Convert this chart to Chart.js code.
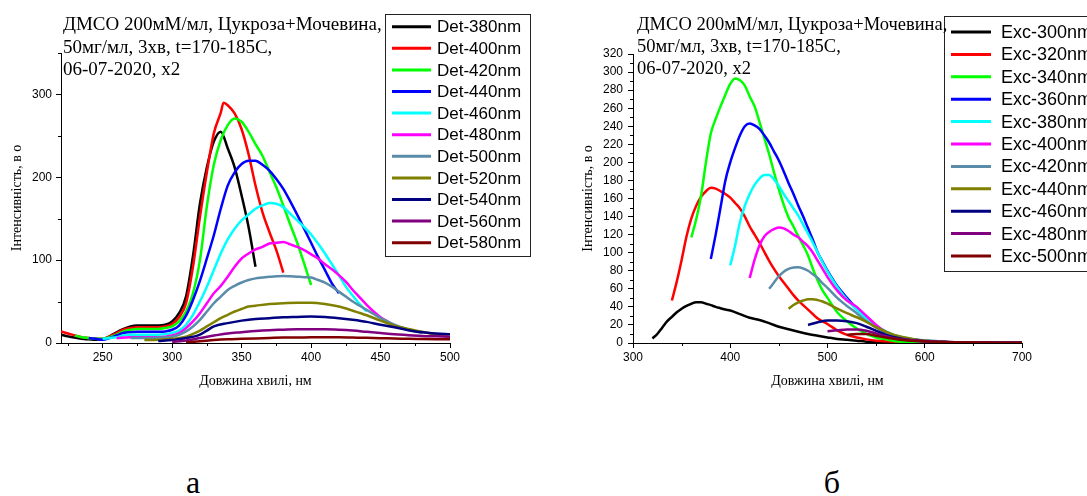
<!DOCTYPE html>
<html lang="uk">
<head>
<meta charset="utf-8">
<script src="https://cdn.jsdelivr.net/npm/chart.js@4.4.1/dist/chart.umd.min.js"></script>
<style>
  body { margin: 0; background: #fff; width: 1087px; height: 496px; position: relative; overflow: hidden }
  canvas, .texto { position: absolute }
  .texto { font-family: 'Liberation Serif', 'Times New Roman', serif; color: #000; white-space: nowrap }
</style>
</head>
<body>
<canvas id="graficoA" width="540" height="400" style="left:0;top:0"></canvas>
<canvas id="graficoB" width="547" height="400" style="left:540px;top:0"></canvas>

<div class="texto" style="left:63px;top:13px;font-size:19px;line-height:22.5px">ДМСО 200мМ/мл, Цукроза+Мочевина,<br>50мг/мл, 3хв, t=170-185С,<br>06-07-2020, x2</div>
<div class="texto" style="left:637px;top:13px;font-size:18.5px;line-height:22px">ДМСО 200мМ/мл, Цукроза+Мочевина,<br>50мг/мл, 3хв, t=170-185С,<br>06-07-2020, x2</div>
<div class="texto" style="left:173px;top:466px;width:40px;text-align:center;font-size:32px;line-height:32px">а</div>
<div class="texto" style="left:812px;top:466px;width:40px;text-align:center;font-size:32px;line-height:32px">б</div>

<script>
// ---- grafico a: detecção
const detLabels = ['Det-380nm', 'Det-400nm', 'Det-420nm', 'Det-440nm', 'Det-460nm', 'Det-480nm', 'Det-500nm', 'Det-520nm', 'Det-540nm', 'Det-560nm', 'Det-580nm']

const det380X = [220, 225, 230, 235, 240, 245, 250, 255, 260, 265, 270, 275, 280, 285, 290, 295, 300, 305, 310, 315, 320, 325, 330, 335, 340, 345, 350, 355, 360]
const det380Y = [10, 8, 6.5, 5, 4.5, 4, 4.5, 8, 13, 17, 20, 21, 21, 21, 21, 22, 26, 36, 56, 105, 168, 212, 243, 255, 235, 212, 178, 140, 92]

const det400X = [220, 225, 230, 235, 240, 245, 250, 255, 260, 265, 270, 275, 280, 285, 290, 295, 300, 305, 310, 315, 320, 325, 330, 335, 337, 340, 345, 350, 355, 360, 365, 370, 375, 380]
const det400Y = [14, 11.5, 9, 7, 6, 5, 5, 8, 12, 16, 18, 19, 19, 19, 19, 20, 23, 31, 48, 92, 152, 206, 253, 278, 290, 287, 277, 258, 228, 190, 158, 134, 112, 85]

const det420X = [230, 235, 240, 245, 250, 255, 260, 265, 270, 275, 280, 285, 290, 295, 300, 305, 310, 315, 320, 325, 330, 335, 340, 345, 350, 355, 360, 365, 370, 375, 380, 385, 390, 395, 400]
const det420Y = [9, 7, 6, 5, 5, 7, 10, 14, 16, 17, 17, 17, 17, 18, 20, 26, 38, 60, 100, 165, 215, 245, 263, 271, 267, 255, 240, 226, 207, 188, 166, 143, 121, 96, 70]

const det440X = [240, 245, 250, 255, 260, 265, 270, 275, 280, 290, 295, 300, 305, 310, 315, 320, 325, 330, 335, 340, 345, 350, 355, 360, 365, 370, 375, 380, 385, 390, 395, 400, 405, 410, 415, 420]
const det440Y = [6, 5, 4, 6, 9, 12, 13, 13.5, 13.5, 13.5, 14, 16, 21, 33, 52, 75, 102, 130, 162, 190, 206, 216, 220, 220, 215, 208, 198, 186, 171, 155, 138, 121, 104, 88, 72, 60]

const det460X = [250, 255, 260, 265, 270, 280, 290, 295, 300, 305, 310, 315, 320, 325, 330, 335, 340, 345, 350, 355, 360, 365, 370, 375, 380, 385, 390, 395, 400, 405, 410, 415, 420, 425, 430, 435, 440]
const det460Y = [5, 6, 7, 9, 10, 10, 10, 10.5, 12, 15, 22, 34, 50, 68, 88, 108, 125, 138, 148, 155, 162, 166, 169, 168, 164, 156, 148, 140, 131, 120, 108, 95, 82, 68, 57, 47, 38]

const det480X = [260, 270, 280, 290, 300, 305, 310, 315, 320, 325, 330, 335, 340, 345, 350, 355, 360, 365, 370, 375, 380, 385, 390, 395, 400, 405, 410, 415, 420, 425, 430, 435, 440, 445, 450, 455, 460]
const det480Y = [6, 7, 7, 7, 9, 12, 18, 26, 36, 48, 60, 69, 80, 92, 102, 108, 113, 116, 120, 121, 122, 119, 116, 112, 107, 102, 95, 89, 82, 74, 64, 55, 46, 38, 31, 26, 21]

const det500X = [270, 280, 290, 300, 305, 310, 315, 320, 325, 330, 335, 340, 345, 350, 355, 360, 365, 370, 375, 380, 385, 390, 395, 400, 405, 410, 415, 420, 425, 430, 435, 440, 445, 450, 455, 460, 465, 470, 475, 480]
const det500Y = [6, 6, 6.5, 7.5, 10, 14, 20, 28, 38, 48, 56, 64, 69, 73, 76, 78, 79, 80, 80.5, 81, 80.5, 80, 79.5, 79, 76, 73, 68, 62, 56, 50, 45, 40, 35, 30, 26, 22, 19, 16, 14, 12]

const det520X = [280, 290, 300, 310, 315, 320, 325, 330, 335, 340, 345, 350, 355, 360, 370, 380, 390, 400, 410, 420, 430, 440, 450, 460, 470, 480, 490, 500]
const det520Y = [3.5, 4, 5, 7.5, 11, 15, 20, 25, 30, 34, 38, 41, 44, 45, 47, 48, 48.5, 48.5, 47, 44, 39, 33.5, 27, 21, 17, 13.5, 10, 7.5]

const det540X = [290, 300, 310, 315, 320, 325, 330, 340, 350, 360, 370, 380, 390, 400, 410, 420, 430, 440, 450, 460, 470, 480, 490, 500]
const det540Y = [2.5, 3.5, 6, 7.5, 10, 15, 20, 24, 27, 29, 30, 31, 31.5, 32, 31.5, 30, 28, 25.5, 22, 19, 15.5, 13, 11.5, 10.5]

const det560X = [300, 310, 320, 330, 340, 350, 360, 370, 380, 390, 400, 410, 420, 430, 440, 450, 460, 470, 480, 490, 500]
const det560Y = [1.5, 3, 6, 9, 11.5, 13, 14.5, 15.5, 16, 16.5, 16.5, 16.5, 16, 15, 13.5, 12, 10.5, 9.5, 8.5, 8, 7.5]

const det580X = [310, 320, 330, 340, 350, 360, 370, 380, 390, 400, 410, 420, 430, 440, 450, 460, 470, 480, 490, 500]
const det580Y = [0.8, 2, 3.5, 4.5, 5, 5.5, 6, 6.5, 6.5, 7, 7, 6.8, 6.5, 6.2, 5.8, 5.5, 5, 4.8, 4.6, 4.4]

const detXs = [det380X, det400X, det420X, det440X, det460X, det480X, det500X, det520X, det540X, det560X, det580X]
const detYs = [det380Y, det400Y, det420Y, det440Y, det460Y, det480Y, det500Y, det520Y, det540Y, det560Y, det580Y]

// ---- grafico б: excitação
const excLabels = ['Exc-300nm', 'Exc-320nm', 'Exc-340nm', 'Exc-360nm', 'Exc-380nm', 'Exc-400nm', 'Exc-420nm', 'Exc-440nm', 'Exc-460nm', 'Exc-480nm', 'Exc-500nm']

const exc300X = [320, 325, 330, 335, 340, 345, 350, 355, 360, 365, 370, 375, 380, 385, 390, 395, 400, 410, 420, 430, 440, 450, 460, 470, 480, 490, 500, 510, 520, 530, 540, 550, 560, 570, 580]
const exc300Y = [5, 10, 17, 24, 29, 34, 38, 41, 43.5, 45, 45, 43.5, 42, 40, 38.5, 37, 36, 32, 28, 25.5, 22, 18, 15.2, 12.5, 10, 8, 6.2, 4.5, 3.5, 2.5, 1.5, 1, 0.6, 0.4, 0.3]

const exc320X = [340, 345, 350, 355, 360, 365, 370, 375, 380, 385, 390, 395, 400, 405, 410, 415, 420, 425, 430, 435, 440, 445, 450, 455, 460, 465, 470, 480, 490, 500, 510, 520, 530, 540, 550, 560, 580, 600]
const exc320Y = [47, 68, 92, 118, 138, 152, 162, 168, 172, 171, 168, 165, 161, 155, 149, 140, 129, 120, 111, 101, 91, 82, 74, 67, 60, 53, 47, 37, 27, 21, 14, 9, 6, 4, 2.5, 1.8, 1, 0.5]

const exc340X = [360, 365, 370, 375, 380, 385, 390, 395, 400, 405, 410, 415, 420, 425, 430, 435, 440, 445, 450, 455, 460, 465, 470, 475, 480, 485, 490, 495, 500, 510, 520, 530, 540, 550, 560, 570, 580, 600, 620]
const exc340Y = [117, 137, 163, 200, 232, 248, 262, 275, 287, 293, 291, 285, 273, 262, 245, 227, 209, 189, 170, 153, 139, 129, 118, 108, 97, 82, 69, 58, 50, 34, 24, 16, 10, 6, 4, 2, 1, 0.5, 0.3]

const exc360X = [380, 385, 390, 395, 400, 405, 410, 415, 420, 425, 430, 435, 440, 445, 450, 455, 460, 465, 470, 475, 480, 485, 490, 495, 500, 510, 520, 530, 540, 550, 560, 570, 580, 590, 600, 620, 650, 700]
const exc360Y = [93, 120, 150, 180, 200, 216, 230, 240, 243, 241, 237, 230, 222, 212, 202, 190, 177, 165, 152, 140, 127, 114, 100, 90, 80, 63, 50, 38, 27, 18, 12, 8, 5, 3.5, 2.5, 1.2, 0.6, 0.3]

const exc380X = [400, 405, 410, 415, 420, 425, 430, 435, 440, 445, 450, 455, 460, 465, 470, 475, 480, 485, 490, 495, 500, 510, 520, 530, 540, 550, 560, 570, 580, 590, 600, 620, 650, 700]
const exc380Y = [86, 108, 134, 152, 165, 175, 182, 186, 186, 181, 174, 165, 157, 149, 141, 131, 121, 111, 100, 89, 79, 62, 48, 37, 27, 19, 13, 8, 5.5, 3.5, 2.5, 1.2, 0.6, 0.3]

const exc400X = [420, 425, 430, 435, 440, 445, 450, 455, 460, 465, 470, 475, 480, 485, 490, 495, 500, 510, 520, 530, 540, 550, 560, 570, 580, 590, 600, 620, 650, 700]
const exc400Y = [72, 92, 108, 118, 123, 126, 128, 127, 124, 120, 117, 112, 107, 100, 91, 82, 73, 58, 47, 40, 30, 20, 12, 7, 4, 2.5, 1.8, 1, 0.5, 0.3]

const exc420X = [440, 445, 450, 455, 460, 465, 470, 475, 480, 485, 490, 495, 500, 510, 520, 530, 540, 550, 560, 570, 580, 590, 600, 620, 650, 700]
const exc420Y = [60, 67, 74, 79, 82, 83.5, 84, 82.5, 80, 76, 72, 66, 61, 50, 41, 33, 24, 17, 11, 8, 5.5, 4, 3, 1.5, 0.7, 0.4]

const exc440X = [460, 465, 470, 475, 480, 485, 490, 495, 500, 510, 520, 530, 540, 550, 560, 570, 580, 590, 600, 620, 650, 700]
const exc440Y = [38, 42, 45, 47, 48.5, 48.5, 47.5, 46, 43.5, 38, 33, 28.5, 23.5, 17.5, 12.5, 8.5, 6, 4, 2.5, 1.2, 0.6, 0.3]

const exc460X = [480, 490, 500, 510, 520, 530, 540, 550, 560, 570, 580, 600, 620, 650, 700]
const exc460Y = [20, 23, 25, 25, 24, 22, 18, 13.5, 9, 6, 4, 2, 1, 0.5, 0.3]

const exc480X = [500, 510, 520, 530, 540, 550, 560, 570, 580, 600, 620, 650, 700]
const exc480Y = [13, 14, 15, 15, 13.5, 10.5, 7.5, 5, 3.5, 2, 1, 0.5, 0.3]

const exc500X = [520, 530, 540, 550, 560, 570, 580, 600, 620, 650, 700]
const exc500Y = [9, 10, 10, 8, 6, 4.5, 3, 1.8, 1, 0.5, 0.3]

const excXs = [exc300X, exc320X, exc340X, exc360X, exc380X, exc400X, exc420X, exc440X, exc460X, exc480X, exc500X]
const excYs = [exc300Y, exc320Y, exc340Y, exc360Y, exc380Y, exc400Y, exc420Y, exc440Y, exc460Y, exc480Y, exc500Y]

const cores = ['#000000', '#ff0000', '#00ff00', '#0000ff', '#00ffff', '#ff00ff', '#5a8caa', '#808000', '#000080', '#800080', '#800000']

const fonteSans = "'Liberation Sans', Arial, sans-serif"
const fonteSerif = "'Liberation Serif', 'Times New Roman', serif"

const pontos = (xs, ys) => xs.map((x, i) => ({ x: x, y: ys[i] }))

// ticks menores (curtos) entre os principais
const ticksMenores = {
    id: 'ticksMenores',
    afterDraw(chart, args, o) {
        const c = chart.ctx
        const sx = chart.scales.x
        const sy = chart.scales.y
        c.save()
        c.strokeStyle = '#000'
        c.lineWidth = 1
        c.beginPath()
        for (let v = Math.ceil(sx.min / o.x) * o.x; v <= sx.max; v += o.x) {
            if (v % o.xMaior == 0) continue
            const px = Math.round(sx.getPixelForValue(v)) + 0.5
            c.moveTo(px, sx.top)
            c.lineTo(px, sx.top + 3)
        }
        for (let v = Math.ceil(sy.min / o.y) * o.y; v <= sy.max; v += o.y) {
            if (v % o.yMaior == 0) continue
            const py = Math.round(sy.getPixelForValue(v)) + 0.5
            c.moveTo(sy.right - 3, py)
            c.lineTo(sy.right, py)
        }
        c.stroke()
        c.restore()
    }
}

// legenda em caixa, como no Origin
const legendaBox = {
    id: 'legendaBox',
    afterDraw(chart, args, o) {
        const c = chart.ctx
        c.save()
        c.fillStyle = '#fff'
        c.fillRect(o.x, o.y, o.w, o.h)
        c.strokeStyle = '#222'
        c.lineWidth = 1
        c.strokeRect(o.x + 0.5, o.y + 0.5, o.w, o.h)
        c.font = o.fonte
        c.textBaseline = 'middle'
        chart.data.datasets.forEach((ds, i) => {
            const cy = o.y + o.topo + i * o.passo
            c.strokeStyle = ds.borderColor
            c.lineWidth = 3
            c.beginPath()
            c.moveTo(o.x + 7, cy)
            c.lineTo(o.x + 7 + o.amostra, cy)
            c.stroke()
            c.fillStyle = '#000'
            c.fillText(ds.label, o.x + o.texto, cy + 1)
        })
        c.restore()
    }
}

const eixoX = (min, max, passo) => ({
    type: 'linear',
    min: min,
    max: max,
    afterFit: s => { s.height = 57; s.paddingLeft = 0; s.paddingRight = 0 },
    border: { color: '#000', width: 1 },
    grid: { drawOnChartArea: false, tickLength: 5, tickColor: '#000' },
    ticks: { stepSize: passo, includeBounds: false, autoSkip: false, maxRotation: 0, color: '#000', padding: 2, font: { family: fonteSans, size: 12 } },
    title: { display: true, text: 'Довжина хвилі, нм', color: '#000', font: { family: fonteSerif, size: 14 }, padding: { top: 0, bottom: 10 } }
})

const eixoY = (min, max, passo, largura, padTitulo, padTick) => ({
    type: 'linear',
    min: min,
    max: max,
    afterFit: s => { s.width = largura; s.paddingTop = 0; s.paddingBottom = 0 },
    border: { color: '#000', width: 1 },
    grid: { drawOnChartArea: false, tickLength: 5, tickColor: '#000' },
    ticks: { stepSize: passo, includeBounds: false, autoSkip: false, color: '#000', padding: padTick, font: { family: fonteSans, size: 12 } },
    title: { display: true, text: 'Інтенсивність, в о', color: '#000', font: { family: fonteSerif, size: 14 }, padding: { top: padTitulo, bottom: 0 } }
})

const montarGrafico = (canvas, labels, xs, ys, cfg) => new Chart(canvas, {
    type: 'line',
    data: {
        datasets: labels.map((l, i) => ({
            label: l,
            data: pontos(xs[i], ys[i]),
            borderColor: cores[i],
            borderWidth: 2.5,
            pointRadius: 0,
            fill: false,
            cubicInterpolationMode: 'monotone',
            borderJoinStyle: 'round',
            order: labels.length - i
        }))
    },
    options: {
        responsive: false,
        animation: false,
        layout: { padding: cfg.padding },
        plugins: {
            legend: { display: false },
            tooltip: { enabled: false },
            ticksMenores: cfg.menores,
            legendaBox: cfg.legenda
        },
        scales: {
            x: cfg.x,
            y: cfg.y
        }
    },
    plugins: [ticksMenores, legendaBox]
})

montarGrafico(document.getElementById('graficoA'), detLabels, detXs, detYs, {
    padding: { left: 0, top: 53, right: 90, bottom: 0 },
    x: eixoX(220, 500, 50),
    y: eixoY(0, 350, 100, 61, 9, 4),
    menores: { x: 25, xMaior: 50, y: 50, yMaior: 100 },
    legenda: { x: 385, y: 14, w: 145, h: 242, topo: 12.7, passo: 21.6, amostra: 39, texto: 52, fonte: "17px 'Liberation Sans', Arial, sans-serif" }
})

montarGrafico(document.getElementById('graficoB'), excLabels, excXs, excYs, {
    padding: { left: 0, top: 54, right: 65, bottom: 0 },
    x: eixoX(300, 700, 100),
    y: eixoY(0, 320, 20, 93, 40, 5),
    menores: { x: 50, xMaior: 100, y: 10, yMaior: 20 },
    legenda: { x: 404, y: 16, w: 160, h: 255, topo: 16, passo: 22.4, amostra: 40, texto: 57, fonte: "18px 'Liberation Sans', Arial, sans-serif" }
})
</script>
</body>
</html>
